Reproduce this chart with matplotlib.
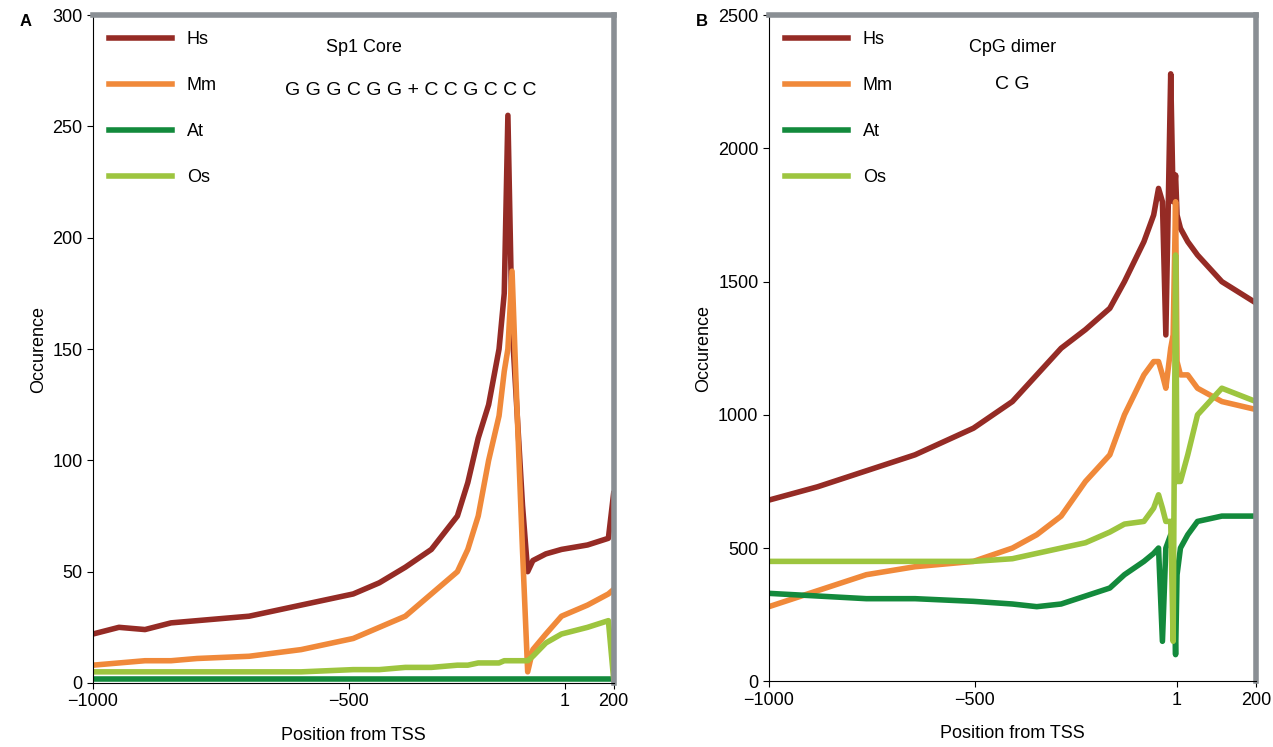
import matplotlib.pyplot as plt
plt.rcParams['font.family'] = ['Liberation Sans', 'DejaVu Sans']

# x positions expressed as fraction of axis width (0 = -1000, 1 = 200)
xa = [0, .05, .1, .15, .2, .3, .4, .5, .55, .6, .65, .7, .72, .74, .76, .78, .79, .797, .805, .815, .825, .835, .845, .87, .9, .95, .99, 1.0]
hs_a = [22, 25, 24, 27, 28, 30, 35, 40, 45, 52, 60, 75, 90, 110, 125, 150, 175, 255, 160, 120, 80, 50, 55, 58, 60, 62, 65, 85]
mm_a = [8, 9, 10, 10, 11, 12, 15, 20, 25, 30, 40, 50, 60, 75, 100, 120, 140, 150, 185, 120, 60, 5, 15, 22, 30, 35, 40, 42]
at_a = [2, 2, 2, 2, 2, 2, 2, 2, 2, 2, 2, 2, 2, 2, 2, 2, 2, 2, 2, 2, 2, 2, 2, 2, 2, 2, 2, 2]
os_a = [5, 5, 5, 5, 5, 5, 5, 6, 6, 7, 7, 8, 8, 9, 9, 9, 10, 10, 10, 10, 10, 10, 12, 18, 22, 25, 28, 2]

xb = [0, .1, .2, .3, .42, .5, .55, .6, .65, .7, .73, .77, .79, .8, .808, .815, .825, .83, .835, .838, .845, .86, .88, .93, 1.0]
hs_b = [680, 730, 790, 850, 950, 1050, 1150, 1250, 1320, 1400, 1500, 1650, 1750, 1850, 1800, 1300, 2280, 1800, 1900, 1750, 1700, 1650, 1600, 1500, 1420]
mm_b = [280, 340, 400, 430, 450, 500, 550, 620, 750, 850, 1000, 1150, 1200, 1200, 1150, 1100, 1250, 1300, 1800, 1200, 1150, 1150, 1100, 1050, 1020]
os_b = [450, 450, 450, 450, 450, 460, 480, 500, 520, 560, 590, 600, 650, 700, 650, 600, 600, 150, 1600, 750, 750, 850, 1000, 1100, 1050]
at_b = [330, 320, 310, 310, 300, 290, 280, 290, 320, 350, 400, 450, 480, 500, 150, 500, 550, 450, 100, 400, 500, 550, 600, 620, 620]

labels = ['Hs', 'Mm', 'At', 'Os']
colors = ['#952b25', '#f0893a', '#138a3c', '#9dc53f']

fig = plt.figure(figsize=(12.73, 7.47), dpi=100)
axA = fig.add_axes([0.073, 0.0857, 0.409, 0.894])
axB = fig.add_axes([0.604, 0.088, 0.3826, 0.8916])

def style(ax, ticks, ylim, yticks):
    ax.set_xlim(0, 1)
    ax.set_ylim(*ylim)
    ax.set_xticks(ticks)
    ax.set_xticklabels(['\u22121000', '\u2212500', '1', '200'], fontsize=13)
    ax.set_yticks(yticks)
    ax.tick_params(labelsize=13, direction='out', length=4)
    for s in ['top', 'right']:
        ax.spines[s].set_color('#8a8f94')
        ax.spines[s].set_linewidth(4)
    ax.set_xlabel('Position from TSS', fontsize=13, labelpad=12)
    ax.set_ylabel('Occurence', fontsize=13)

for ax, x, series in [(axA, xa, [hs_a, mm_a, at_a, os_a]), (axB, xb, [hs_b, mm_b, at_b, os_b])]:
    handles = []
    for s, c, l in zip(series, colors, labels):
        h, = ax.plot(x, s, color=c, lw=4, label=l)
        handles.append(h)
    ax.legend(handles=handles, loc='upper left', frameon=False, fontsize=13,
              handlelength=3.5, labelspacing=1.6, borderaxespad=0.5)

style(axA, [0, 0.491, 0.906, 1.0], (0, 300), range(0, 301, 50))
style(axB, [0, 0.423, 0.838, 1.0], (0, 2500), range(0, 2501, 500))

axA.text(0.52, 0.945, 'Sp1 Core', transform=axA.transAxes, ha='center', fontsize=13)
axA.text(0.61, 0.88, 'G G G C G G + C C G C C C', transform=axA.transAxes, ha='center', fontsize=14)
axB.text(0.5, 0.945, 'CpG dimer', transform=axB.transAxes, ha='center', fontsize=13)
axB.text(0.5, 0.89, 'C G', transform=axB.transAxes, ha='center', fontsize=14)
fig.text(0.015, 0.965, 'A', fontsize=12, fontweight='bold')
fig.text(0.547, 0.965, 'B', fontsize=12, fontweight='bold')

fig.savefig('out.png', dpi=100)
